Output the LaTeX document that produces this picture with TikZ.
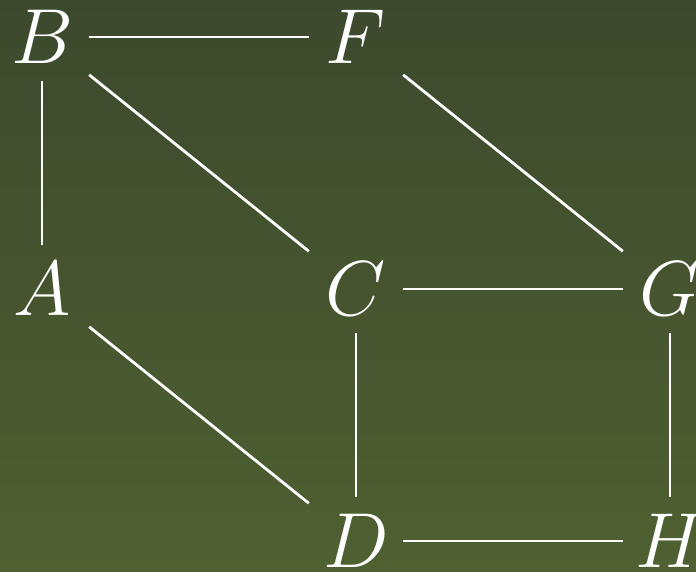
\documentclass[tikz,border=0pt]{standalone}
\usepackage{fix-cm}
\usepackage{xcolor}
\definecolor{colBgTop}{HTML}{3C492D}
\definecolor{colBgBottom}{HTML}{4F6031}
\usetikzlibrary{positioning}
\tikzset{
    vtx/.style={
        text=white,
        minimum width=94pt, minimum height=88pt,
        inner sep=0pt,
        font=\fontsize{78}{94}\selectfont
    },
    link/.style={draw=white, line width=2.8pt},
}
\begin{document}
\begin{tikzpicture}[x=1pt, y=-1pt, on grid, node distance=252pt and 314pt]
    \shade[top color=colBgTop, bottom color=colBgBottom] (0,0) rectangle (696,571);
    \useasboundingbox (0,0) rectangle (696,571);

    % vertices
    \node[vtx] (B) at (42,37) {$B$};
    \node[vtx, right=of B] (F) {$F$};
    \node[vtx, below=of B] (A) {$A$};
    \node[vtx, right=of A] (C) {$C$};
    \node[vtx, right=of C] (G) {$G$};
    \node[vtx, below=of C] (D) {$D$};
    \node[vtx, right=of D] (H) {$H$};

    % edges
    \draw[link] (B) -- (F);
    \draw[link] (B) -- (A);
    \draw[link] (B) -- (C);
    \draw[link] (F) -- (G);
    \draw[link] (A) -- (D);
    \draw[link] (C) -- (G);
    \draw[link] (C) -- (D);
    \draw[link] (G) -- (H);
    \draw[link] (D) -- (H);
\end{tikzpicture}
\end{document}
